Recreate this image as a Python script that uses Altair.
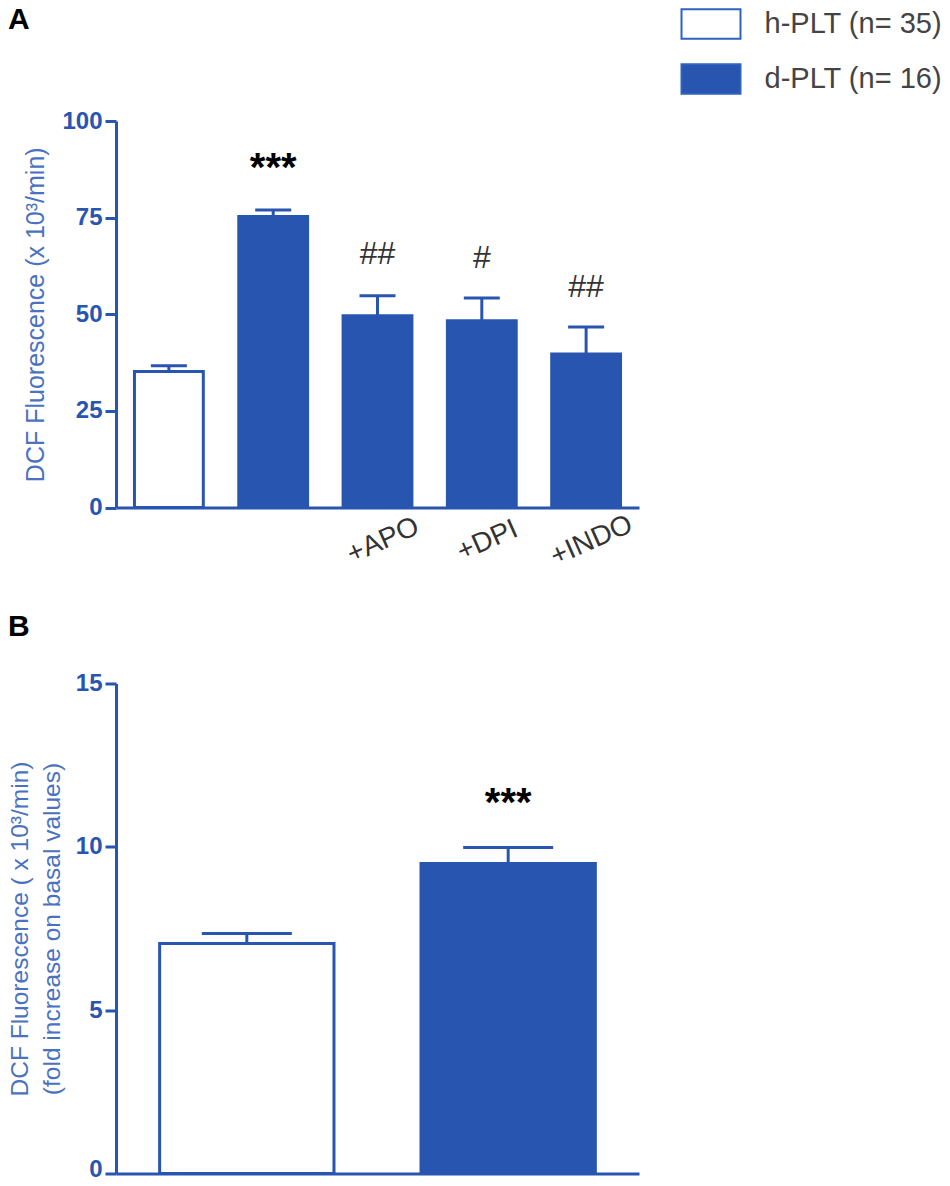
import altair as alt
import pandas as pd

BLUE = "#2855b0"
TITLE_BLUE = "#4a72c0"
LEGEND_BLUE = "#2f62c0"
FONT = "Liberation Sans"

h_label = "h-PLT (n= 35)"
d_label = "d-PLT (n= 16)"

# panel A
a_names = ["h-PLT", "d-PLT", "+APO", "+DPI", "+INDO"]
a_groups = [h_label, d_label, d_label, d_label, d_label]
a_means = [35.2, 75.3, 49.6, 48.3, 39.7]
a_tops = [36.7, 77.0, 54.8, 54.2, 46.7]
a_marks = ["", "***", "##", "#", "##"]
a_mark_y = [0, 87.5, 65.5, 64.5, 57.0]
a_ticks = [0, 25, 50, 75, 100]

# panel B
b_names = ["h-PLT", "d-PLT"]
b_groups = [h_label, d_label]
b_means = [7.04, 9.49]
b_tops = [7.35, 9.98]
b_marks = ["", "***"]
b_mark_y = [0, 11.3]
b_ticks = [0, 5, 10, 15]


def panel(names, groups, means, tops, marks, mark_y, ticks, ytitle, letter, height,
          inner, outer, cap, legend, label_expr, offset, title_pad, title_size, zero_lift):
    df = pd.DataFrame(
        {"name": names, "group": groups, "mean": means, "top": tops, "mark": marks, "mark_y": mark_y}
    )
    x = alt.X(
        "name:N",
        sort=names,
        scale=alt.Scale(paddingInner=inner, paddingOuter=outer),
        axis=alt.Axis(
            title=None,
            ticks=False,
            domainWidth=3,
            domainColor=BLUE,
            labelExpr=label_expr,
            labelAngle=336,
            labelAlign="center",
            labelBaseline="top",
            labelFont=FONT,
            labelFontSize=28,
            labelColor="#333333",
            labelPadding=20,
        ),
    )
    y = alt.Y(
        "mean:Q",
        scale=alt.Scale(domain=[ticks[0], ticks[-1]], nice=False),
        axis=alt.Axis(
            title=ytitle,
            values=ticks,
            grid=False,
            domainWidth=3,
            domainColor=BLUE,
            tickWidth=3,
            tickColor=BLUE,
            tickSize=11,
            labelFont=FONT,
            labelFontSize=24,
            labelFontWeight="bold",
            labelColor=BLUE,
            labelPadding=3,
            # the lowest label of the last panel has to stay inside the page
            labelOffset={"condition": {"test": "datum.value == 0", "value": zero_lift}, "value": 0},
            titleFont=FONT,
            titleFontSize=title_size,
            titleFontWeight="normal",
            titleColor=TITLE_BLUE,
            titlePadding=title_pad,
            titleLineHeight=32,
        ),
    )
    color = alt.Color(
        "group:N",
        scale=alt.Scale(domain=[h_label, d_label], range=["white", BLUE]),
        legend=legend,
    )
    bars = alt.Chart(df).mark_bar(stroke=BLUE, strokeWidth=3).encode(x=x, y=y, color=color)
    stems = (
        alt.Chart(df)
        .mark_rule(color=BLUE, strokeWidth=3)
        .encode(x=alt.X("name:N", sort=names), y="mean:Q", y2="top:Q")
    )
    caps = (
        alt.Chart(df)
        .mark_tick(color=BLUE, thickness=3, size=cap, orient="horizontal", opacity=1)
        .encode(x=alt.X("name:N", sort=names), y="top:Q")
    )
    stars = (
        alt.Chart(df[df["mark"] == "***"])
        .mark_text(font=FONT, fontSize=40, fontWeight="bold", color="black", baseline="middle")
        .encode(x=alt.X("name:N", sort=names), y="mark_y:Q", text="mark:N")
    )
    hashes = (
        alt.Chart(df[df["mark"].isin(["#", "##"])])
        .mark_text(font=FONT, fontSize=32, color="#333333", baseline="middle")
        .encode(x=alt.X("name:N", sort=names), y="mark_y:Q", text="mark:N")
    )
    return alt.layer(bars, stems, caps, stars, hashes).properties(
        width=523,
        height=height,
        title=alt.TitleParams(
            letter,
            anchor="start",
            frame="group",
            dx=-108,
            offset=offset,
            font=FONT,
            fontSize=30,
            fontWeight="bold",
            color="black",
        ),
    )


legend_a = alt.Legend(
    title=None,
    orient="none",
    legendX=579,
    legendY=-113,
    symbolType="M-2,-1H2V1H-2Z",
    symbolSize=870,
    symbolStrokeColor=LEGEND_BLUE,
    symbolStrokeWidth=2,
    rowPadding=17,
    labelFont=FONT,
    labelFontSize=29,
    labelColor="#444444",
    labelOffset=37.5,
    labelLimit=300,
)

a = panel(
    a_names, a_groups, a_means, a_tops, a_marks, a_mark_y, a_ticks,
    "DCF Fluorescence (x 10³/min)", "A", 386.5, 0.34, 0.177, 36, legend_a,
    "indexof(['+APO','+DPI','+INDO'], datum.value) >= 0 ? datum.value : ''", -27, 13, 25, 0,
)
b = panel(
    b_names, b_groups, b_means, b_tops, b_marks, b_mark_y, b_ticks,
    ["DCF Fluorescence ( x 10³/min)", "(fold increase on basal values)"], "B", 490,
    0.333, 0.167, 90, None, "''", 30, 11, 24.5, -4,
)

chart = (
    alt.concat(a, b, columns=1, spacing=40.5, align="each")
    .resolve_scale(color="independent")
    .properties(padding={"left": -1, "top": -3, "right": -2, "bottom": -5})
    .configure_view(stroke=None)
)

chart.save("out.html", embed_options={"renderer": "svg", "actions": False})
